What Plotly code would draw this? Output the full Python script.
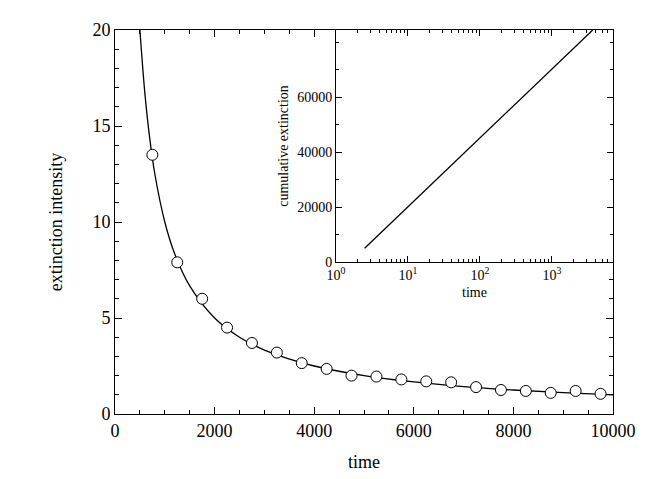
import plotly.graph_objects as go

# measured points
t_pts = [750, 1250, 1750, 2250, 2750, 3250, 3750, 4250, 4750, 5250, 5750, 6250, 6750, 7250, 7750, 8250, 8750, 9250, 9750]
y_pts = [13.5, 7.9, 6.0, 4.5, 3.7, 3.2, 2.65, 2.35, 2.0, 1.95, 1.8, 1.7, 1.65, 1.4, 1.25, 1.2, 1.1, 1.2, 1.05]

# fitted curve
t_fit = [500, 600, 700, 800, 1000, 1200, 1500, 2000, 2500, 3000, 4000, 5000, 6000, 7000, 8000, 9000, 10000]
y_fit = [20, 16.7, 14.3, 12.5, 10, 8.33, 6.67, 5.0, 4.0, 3.33, 2.5, 2.0, 1.67, 1.43, 1.25, 1.11, 1.0]

# inset: cumulative extinction (straight on log time)
t_cum = [2.5, 3700]
y_cum = [5000, 84500]

log_minor = [m * 10 ** d for d in range(4) for m in range(2, 10)]

font = dict(family="Liberation Serif", size=18, color="black")
small = dict(family="Liberation Serif", size=14, color="black")

fig = go.Figure()
fig.add_trace(go.Scatter(x=t_fit, y=y_fit, mode="lines", line=dict(color="black", width=1.3, shape="spline")))
fig.add_trace(go.Scatter(x=t_pts, y=y_pts, mode="markers",
                         marker=dict(symbol="circle", size=11, color="white", line=dict(color="black", width=1))))
fig.add_trace(go.Scatter(x=t_cum, y=y_cum, mode="lines", line=dict(color="black", width=1.3),
                         xaxis="x2", yaxis="y2"))

ax = dict(showline=True, mirror="ticks", linecolor="black", linewidth=1, ticks="inside",
          ticklen=7, tickcolor="black", showgrid=False, zeroline=False)

fig.update_layout(
    width=645, height=479, showlegend=False,
    plot_bgcolor="white", paper_bgcolor="white",
    margin=dict(l=107, r=40, t=12, b=73),
    font=font,
    xaxis=dict(ax, range=[0, 10000], tickvals=[0, 2000, 4000, 6000, 8000, 10000],
               ticktext=["0", "2000", "4000", "6000", "8000", "10000"], tickfont=font,
               minor=dict(dtick=500, ticks="inside", ticklen=4, tickcolor="black"),
               title=dict(text="time", font=font, standoff=15)),
    yaxis=dict(ax, range=[0, 20], tickvals=[0, 5, 10, 15, 20], tickfont=font,
               minor=dict(dtick=1, ticks="inside", ticklen=4, tickcolor="black"),
               title=dict(text="extinction intensity", font=font, standoff=25)),
    xaxis2=dict(ax, type="log", range=[0, 3.85], tickvals=[1, 10, 100, 1000],
                ticktext=["10<sup>0</sup>", "10<sup>1</sup>", "10<sup>2</sup>", "10<sup>3</sup>"],
                tickfont=small, ticklen=6,
                minor=dict(tickvals=log_minor, ticks="inside", ticklen=3, tickcolor="black"),
                domain=[(328 - 107) / 498, 1], anchor="y2",
                title=dict(text="time", font=small, standoff=5)),
    yaxis2=dict(ax, range=[0, 84500], tickvals=[0, 20000, 40000, 60000],
                ticktext=["0", "20000", "40000", "60000"], tickfont=small, ticklen=6,
                minor=dict(dtick=10000, ticks="inside", ticklen=3, tickcolor="black"),
                domain=[(406 - 250) / 394, 1], anchor="x2",
                title=dict(text="cumulative extinction", font=small, standoff=5)),
)

fig.write_html("out.html")
